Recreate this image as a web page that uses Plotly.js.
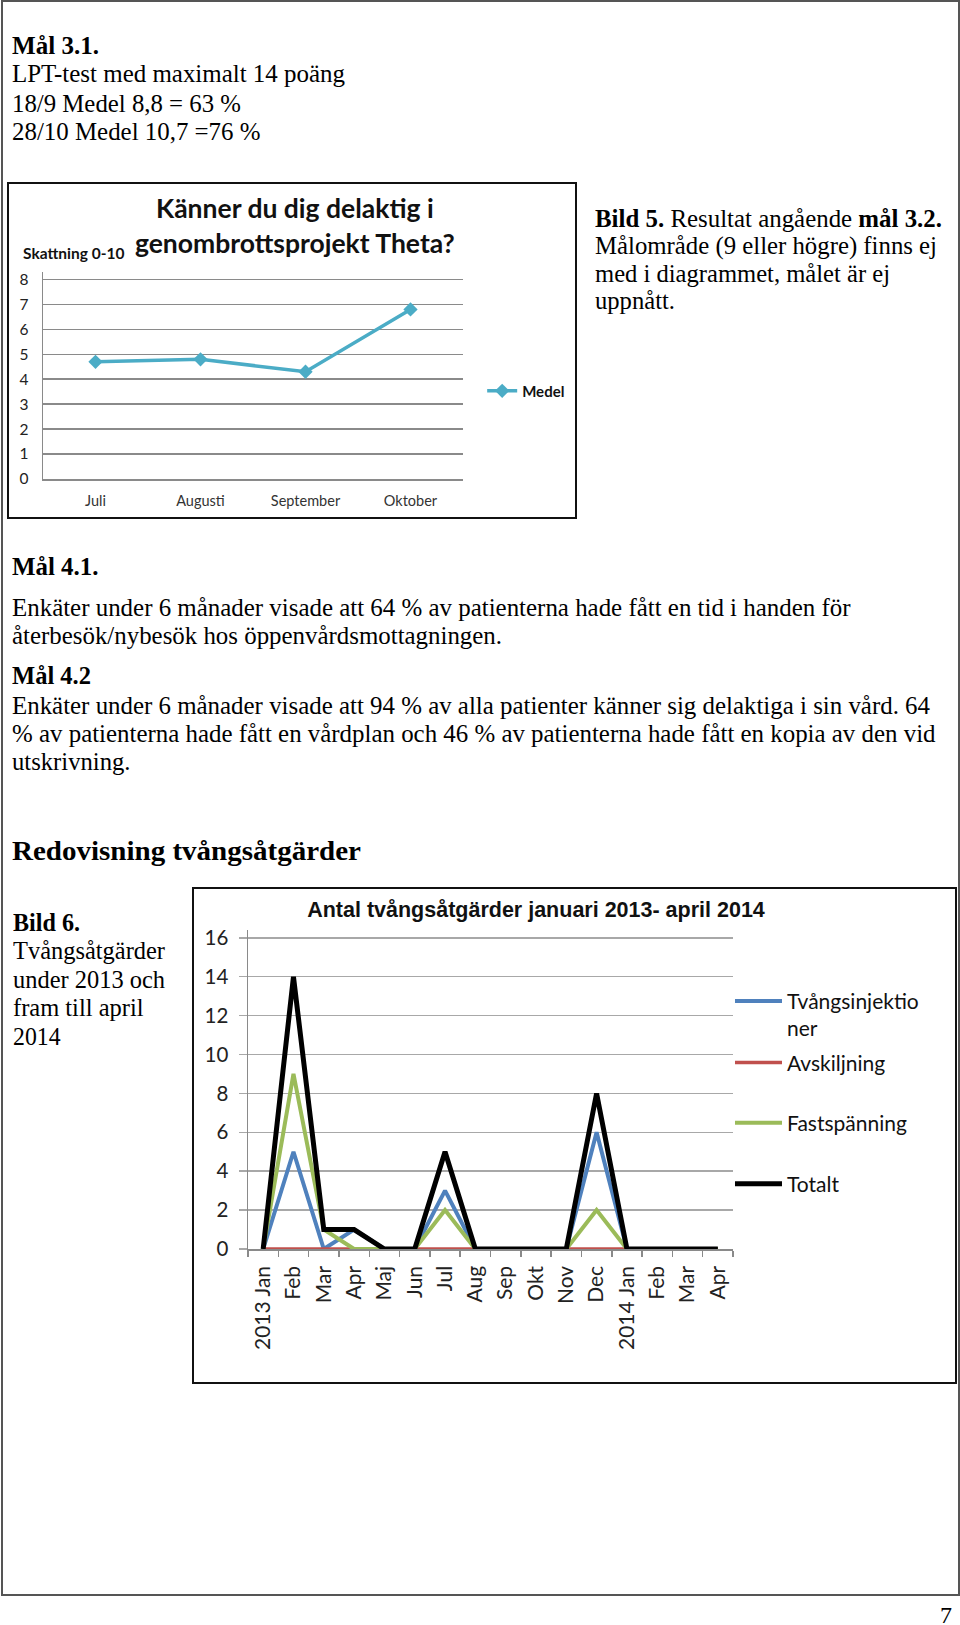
<!DOCTYPE html>
<html><head><meta charset="utf-8">
<script src="https://cdn.plot.ly/plotly-3.0.1.min.js"></script>
<style>
body{margin:0;width:960px;height:1625px;background:#fff;position:relative;overflow:hidden;font-family:"Liberation Serif","Times New Roman",serif;color:#000;}
.ln{position:absolute;white-space:nowrap;transform-origin:0 0;font-size:25px;line-height:25px;}
.box{position:absolute;box-sizing:border-box;border:2px solid #111;}
</style></head>
<body>
<div class="box" style="left:1px;top:0;width:959px;height:1596px;border-color:#555"></div>

<div class="ln" data-x="11.5" data-b="54" data-w="87"><b>Mål 3.1.</b></div>
<div class="ln" data-x="11.5" data-b="82" data-w="333">LPT-test med maximalt 14 poäng</div>
<div class="ln" data-x="11.5" data-b="111.5" data-w="229">18/9 Medel 8,8 = 63 %</div>
<div class="ln" data-x="11.5" data-b="140" data-w="248.5">28/10 Medel 10,7 =76 %</div>

<div class="ln" data-x="595" data-b="226.5" data-w="347"><b>Bild 5.</b> Resultat angående <b>mål 3.2.</b></div>
<div class="ln" data-x="595" data-b="254" data-w="342">Målområde (9 eller högre) finns ej</div>
<div class="ln" data-x="595" data-b="281.5" data-w="295">med i diagrammet, målet är ej</div>
<div class="ln" data-x="595" data-b="309" data-w="80">uppnått.</div>

<div class="ln" data-x="11.5" data-b="575" data-w="86.5"><b>Mål 4.1.</b></div>
<div class="ln" data-x="11.5" data-b="615.5" data-w="838.5">Enkäter under 6 månader visade att 64 % av patienterna hade fått en tid i handen för</div>
<div class="ln" data-x="11.5" data-b="643.5" data-w="490">återbesök/nybesök hos öppenvårdsmottagningen.</div>
<div class="ln" data-x="11.5" data-b="684" data-w="79"><b>Mål 4.2</b></div>
<div class="ln" data-x="11.5" data-b="713.5" data-w="918">Enkäter under 6 månader visade att 94 % av alla patienter känner sig delaktiga i sin vård. 64</div>
<div class="ln" data-x="11.5" data-b="742" data-w="923.5">% av patienterna hade fått en vårdplan och 46 % av patienterna hade fått en kopia av den vid</div>
<div class="ln" data-x="11.5" data-b="770" data-w="118.5">utskrivning.</div>

<div class="ln" data-x="12" data-b="860" data-w="349" style="font-size:28px;line-height:28px"><b>Redovisning tvångsåtgärder</b></div>

<div class="ln" data-x="12.5" data-b="930.5" data-w="67"><b>Bild 6.</b></div>
<div class="ln" data-x="12.5" data-b="959" data-w="152">Tvångsåtgärder</div>
<div class="ln" data-x="12.5" data-b="987.5" data-w="152">under 2013 och</div>
<div class="ln" data-x="12.5" data-b="1016" data-w="130.5">fram till april</div>
<div class="ln" data-x="12.5" data-b="1044.5" data-w="47.5">2014</div>

<div class="ln" data-x="940" data-b="1623" style="font-size:24px;line-height:24px">7</div>

<div class="box" style="left:7px;top:182px;width:570px;height:337px"></div>
<div id="c1" style="position:absolute;left:9px;top:184px;width:566px;height:333px"></div>

<div class="box" style="left:192px;top:887px;width:765px;height:497px"></div>
<div id="c2" style="position:absolute;left:194px;top:889px;width:761px;height:493px"></div>

<script>
// ---------- Data: chart 1 ----------
const months1 = ['Juli', 'Augusti', 'September', 'Oktober'];
const medel = [4.7, 4.8, 4.3, 6.8];

// ---------- Data: chart 2 ----------
const monthKeys = ['2013-01','2013-02','2013-03','2013-04','2013-05','2013-06','2013-07','2013-08',
                   '2013-09','2013-10','2013-11','2013-12','2014-01','2014-02','2014-03','2014-04'];
const monthLabels = ['2013 Jan','Feb','Mar','Apr','Maj','Jun','Jul','Aug','Sep','Okt','Nov','Dec',
                     '2014 Jan','Feb','Mar','Apr'];
const tvangsinjektioner = [0, 5, 0, 1, 0, 0, 3, 0, 0, 0, 0, 6, 0, 0, 0, 0];
const avskiljning       = [0, 0, 0, 0, 0, 0, 0, 0, 0, 0, 0, 0, 0, 0, 0, 0];
const fastspanning      = [0, 9, 1, 0, 0, 0, 2, 0, 0, 0, 0, 2, 0, 0, 0, 0];
const totalt            = [0, 14, 1, 1, 0, 0, 5, 0, 0, 0, 0, 8, 0, 0, 0, 0];

// ---------- text line fitting ----------
document.querySelectorAll('.ln').forEach(el => {
  const fs = parseFloat(getComputedStyle(el).fontSize);
  el.style.left = el.dataset.x + 'px';
  el.style.top = (parseFloat(el.dataset.b) - 0.8375 * fs) + 'px';
  if (el.dataset.w) {
    const w = el.getBoundingClientRect().width;
    el.style.transform = 'scaleX(' + (parseFloat(el.dataset.w) / w) + ')';
  }
});

const sans = 'Lato, "Open Sans", sans-serif';
const gridC = '#8a8a8a';

// ---------- Chart 1 ----------
Plotly.newPlot('c1', [{
  x: months1, y: medel, type: 'scatter', mode: 'lines+markers', name: '<b>Medel</b>',
  line: {color: '#4BACC6', width: 3.5},
  marker: {symbol: 'diamond', size: 11, color: '#4BACC6'}
}], {
  width: 566, height: 333,
  margin: {l: 33.6, r: 112, t: 87.8, b: 38, pad: 0, autoexpand: false},
  paper_bgcolor: '#fff', plot_bgcolor: '#fff',
  font: {family: sans, color: '#222'},
  title: {
    text: '<b>Känner du dig delaktig i<br>genombrottsprojekt Theta?</b>',
    font: {size: 26.5, family: sans, color: '#111'},
    x: 0.505, xref: 'container', xanchor: 'center',
    y: 0.8964, yref: 'container', yanchor: 'middle'
  },
  xaxis: {type: 'category', range: [-0.5, 3.5], showgrid: false, showline: true,
          linecolor: gridC, linewidth: 1.5, ticks: '', ticklabelstandoff: 8,
          tickfont: {size: 14.5, color: '#333'}, fixedrange: true},
  yaxis: {range: [0, 8.3], tickvals: [0,1,2,3,4,5,6,7,8], showgrid: true, gridcolor: gridC, gridwidth: 1.5,
          showline: true, linecolor: gridC, linewidth: 1.5, ticks: '', zeroline: false,
          ticklabelstandoff: 10, tickfont: {size: 15.5, color: '#222'}},
  showlegend: true,
  legend: {x: 0.836, xref: 'container', xanchor: 'left', y: 0.4247, yanchor: 'middle',
           font: {size: 15, family: sans, color: '#111'}, bgcolor: 'rgba(0,0,0,0)'},
  annotations: [{text: '<b>Skattning 0-10</b>', xref: 'paper', yref: 'paper',
                 x: 0.0723, y: 1.094, xanchor: 'center', yanchor: 'middle', showarrow: false,
                 font: {size: 15.5, family: sans, color: '#111'}}]
}, {staticPlot: true});

// ---------- Chart 2 ----------
const legendBase = {x: 0.9938, xanchor: 'left', yanchor: 'middle', itemwidth: 47,
                    font: {size: 21, family: sans, color: '#111'}, bgcolor: 'rgba(0,0,0,0)', valign: 'top'};
Plotly.newPlot('c2', [
  {x: monthKeys, y: tvangsinjektioner, type: 'scatter', mode: 'lines', name: 'Tvångsinjektio<br>ner',
   line: {color: '#4F81BD', width: 4}, legend: 'legend'},
  {x: monthKeys, y: avskiljning, type: 'scatter', mode: 'lines', name: 'Avskiljning',
   line: {color: '#C0504D', width: 3.5}, legend: 'legend2'},
  {x: monthKeys, y: fastspanning, type: 'scatter', mode: 'lines', name: 'Fastspänning',
   line: {color: '#9BBB59', width: 4}, legend: 'legend3'},
  {x: monthKeys, y: totalt, type: 'scatter', mode: 'lines', name: 'Totalt',
   line: {color: '#000000', width: 5}, legend: 'legend4'}
], {
  width: 761, height: 493,
  margin: {l: 54, r: 222, t: 40.5, b: 133, pad: 0, autoexpand: false},
  paper_bgcolor: '#fff', plot_bgcolor: '#fff',
  font: {family: sans, color: '#222'},
  title: {
    text: '<b>Antal tvångsåtgärder januari 2013- april 2014</b>',
    font: {size: 21.5, family: '"Liberation Sans", Arial, sans-serif', color: '#111'},
    x: 0.4494, xref: 'container', xanchor: 'center',
    y: 0.9594, yref: 'container', yanchor: 'middle'
  },
  xaxis: {type: 'category', categoryorder: 'array', categoryarray: monthKeys,
          tickmode: 'array', tickvals: monthKeys, ticktext: monthLabels,
          tickson: 'boundaries', ticks: 'outside', ticklen: 6, tickwidth: 1.5, tickcolor: gridC,
          tickangle: -90, range: [-0.5, 15.5], showgrid: false, showline: true,
          linecolor: gridC, linewidth: 1.5, ticklabelstandoff: 7,
          tickfont: {size: 21, family: sans, color: '#222'}},
  yaxis: {range: [0, 16.4], tickvals: [0,2,4,6,8,10,12,14,16], showgrid: true, gridcolor: '#a8a8a8', gridwidth: 1.5,
          showline: true, linecolor: gridC, linewidth: 1.5, zeroline: false,
          ticks: 'outside', ticklen: 8, tickwidth: 1.5, tickcolor: '#a8a8a8',
          ticklabelstandoff: 6, tickfont: {size: 20.5, family: sans, color: '#222'}},
  showlegend: true,
  legend:  Object.assign({}, legendBase, {y: 0.734}),
  legend2: Object.assign({}, legendBase, {y: 0.5837}),
  legend3: Object.assign({}, legendBase, {y: 0.395}),
  legend4: Object.assign({}, legendBase, {y: 0.2034})
}, {staticPlot: true});
</script>
</body></html>
